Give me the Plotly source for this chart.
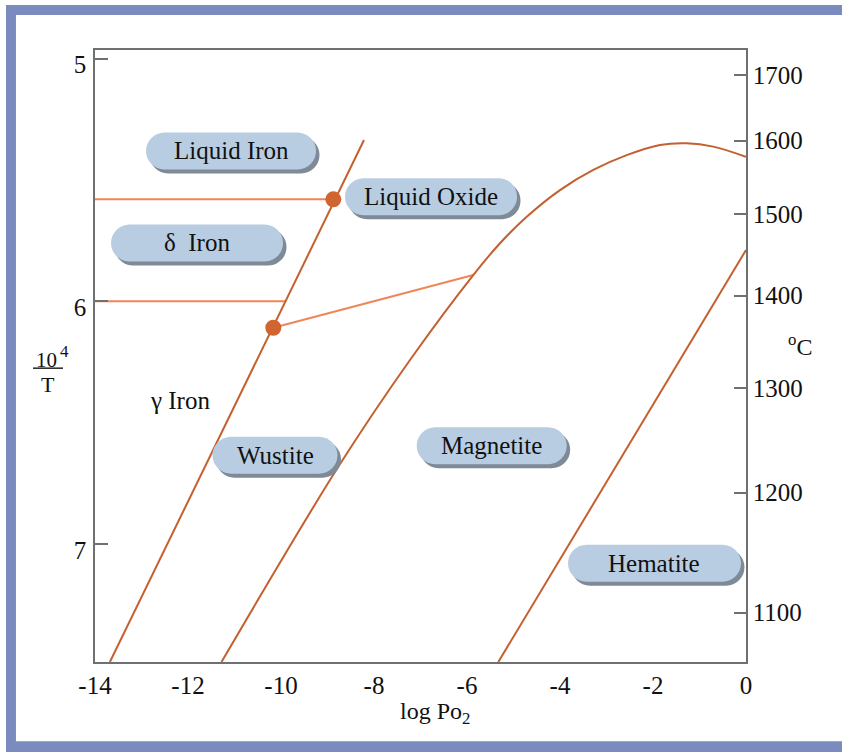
import plotly.graph_objects as go

# ---------------- data ----------------
x_ticks = [-14, -12, -10, -8, -6, -4, -2, 0]
inv_t_ticks = [5, 6, 7]
celsius_ticks = [1700, 1600, 1500, 1400, 1300, 1200, 1100]

# Fe / FeO boundary (straight)
fe_feo_x = [-13.68, -8.215]
fe_feo_y = [7.486, 5.336]

# FeO / Fe3O4 boundary (curved, ends at the liquid oxide dome)
feo_mag_x = [-11.28, -8.768, -7.226, -5.865, -5.290, -4.716, -4.0, -3.284, -2.566, -1.849, -1.275, -0.703, 0.0]
feo_mag_y = [7.486, 6.682, 6.242, 5.892, 5.761, 5.652, 5.542, 5.459, 5.398, 5.356, 5.349, 5.363, 5.405]

# Fe3O4 / Fe2O3 boundary
mag_hem_x = [-5.327, 0.0]
mag_hem_y = [7.486, 5.789]

# horizontal transitions of iron (liquid/delta, delta/gamma)
liq_delta_x = [-14.0, -8.875]
liq_delta_y = [5.58, 5.58]
delta_gamma_x = [-14.0, -9.90]
delta_gamma_y = [6.0, 6.0]

# tie line from invariant point to the magnetite boundary
tie_x = [-10.165, -5.865]
tie_y = [6.109, 5.892]

# invariant points
pts_x = [-8.875, -10.165]
pts_y = [5.58, 6.109]

# region labels
region_names = ["Liquid Iron", "Liquid Oxide", "δ\u00a0\u00a0Iron", "Wustite", "Magnetite", "Hematite"]
region_x = [-11.075, -6.774, -11.806, -10.129, -5.469, -1.968]
region_y = [5.381, 5.569, 5.760, 6.634, 6.595, 7.079]
gamma_name = "γ Iron"
gamma_x = -12.172
gamma_y = 6.407

# ---------------- styling ----------------
Y_RANGE = [7.486, 4.965]
X_RANGE = [-14, 0]
DARK = "#C4602F"
LIGHT = "#EE8657"
DOT = "#CF6530"
AXIS = "#707070"
FONT = "Liberation Serif"
TXT = "#111111"
PILL_W = [170, 172, 172, 125, 150, 173]
PILL_H = 37
PILL_FILL = "#B9CDE2"
PILL_SHADOW = "#7E8A97"
FRAME = "#7A8BC0"

fig = go.Figure()

def line(x, y, color, shape="linear"):
    fig.add_trace(go.Scatter(x=x, y=y, mode="lines",
                             line=dict(color=color, width=2, shape=shape, smoothing=1.0),
                             hoverinfo="skip", showlegend=False))

line(liq_delta_x, liq_delta_y, LIGHT)
line(delta_gamma_x, delta_gamma_y, LIGHT)
line(tie_x, tie_y, LIGHT)
line(fe_feo_x, fe_feo_y, DARK)
line(feo_mag_x, feo_mag_y, DARK, "spline")
line(mag_hem_x, mag_hem_y, DARK)

fig.add_trace(go.Scatter(x=pts_x, y=pts_y, mode="markers",
                         marker=dict(color=DOT, size=16, line=dict(width=0)),
                         hoverinfo="skip", showlegend=False))

# invisible trace to make the right axis live
fig.add_trace(go.Scatter(x=[None], y=[None], yaxis="y2", showlegend=False, hoverinfo="skip"))

# ---------------- pills ----------------
def pill_path(w, h, dx=0.0, dy=0.0):
    r = h / 2.0
    a = w / 2.0 - r
    k = 0.5523 * r
    P = lambda x, y: f"{x + dx:.2f},{y + dy:.2f}"
    return (f"M{P(-a, -r)} L{P(a, -r)} "
            f"C{P(a + k, -r)} {P(a + r, -k)} {P(a + r, 0)} "
            f"C{P(a + r, k)} {P(a + k, r)} {P(a, r)} "
            f"L{P(-a, r)} "
            f"C{P(-a - k, r)} {P(-a - r, k)} {P(-a - r, 0)} "
            f"C{P(-a - r, -k)} {P(-a - k, -r)} {P(-a, -r)} Z")

shapes = []
for name, xc, yc, w in zip(region_names, region_x, region_y, PILL_W):
    shapes.append(dict(type="path", xref="x", yref="y", xsizemode="pixel", ysizemode="pixel",
                       xanchor=xc, yanchor=yc, path=pill_path(w, PILL_H, 3.5, -4),
                       fillcolor=PILL_SHADOW, line=dict(width=0), layer="above"))
    shapes.append(dict(type="path", xref="x", yref="y", xsizemode="pixel", ysizemode="pixel",
                       xanchor=xc, yanchor=yc, path=pill_path(w, PILL_H),
                       fillcolor=PILL_FILL, line=dict(width=0), layer="above"))

# outer frame (left, top, bottom bands)
shapes += [
    dict(type="rect", xref="paper", yref="paper", x0=-0.1367, x1=-0.1214, y0=-0.1480, y1=1.0736,
         fillcolor=FRAME, line=dict(width=0), layer="below"),
    dict(type="rect", xref="paper", yref="paper", x0=-0.1367, x1=1.16, y0=1.0572, y1=1.0736,
         fillcolor=FRAME, line=dict(width=0), layer="below"),
    dict(type="rect", xref="paper", yref="paper", x0=-0.1367, x1=1.16, y0=-0.1480, y1=-0.1296,
         fillcolor=FRAME, line=dict(width=0), layer="below"),
    # fraction bar of 10^4 / T
    dict(type="line", xref="paper", yref="paper", x0=-0.0952, x1=-0.0492, y0=0.4801, y1=0.4801,
         line=dict(color="#222222", width=1.5)),
]

annotations = []
for name, xc, yc in zip(region_names, region_x, region_y):
    annotations.append(dict(x=xc, y=yc, xref="x", yref="y", text=name, showarrow=False,
                            font=dict(family=FONT, size=25, color=TXT),
                            xanchor="center", yanchor="middle"))
annotations.append(dict(x=gamma_x, y=gamma_y, xref="x", yref="y", text=gamma_name, showarrow=False,
                        font=dict(family=FONT, size=25, color=TXT),
                        xanchor="center", yanchor="middle"))
annotations += [
    dict(x=0.523, y=-0.0839, xref="paper", yref="paper", text="log Po<sub>2</sub>", showarrow=False,
         font=dict(family=FONT, size=24, color=TXT), xanchor="center", yanchor="middle"),
    dict(x=-0.0742, y=0.4934, xref="paper", yref="paper", text="10", showarrow=False,
         font=dict(family=FONT, size=21, color=TXT), xanchor="center", yanchor="middle"),
    dict(x=-0.0476, y=0.5081, xref="paper", yref="paper", text="4", showarrow=False,
         font=dict(family=FONT, size=17, color=TXT), xanchor="center", yanchor="middle"),
    dict(x=-0.0722, y=0.4528, xref="paper", yref="paper", text="T", showarrow=False,
         font=dict(family=FONT, size=22, color=TXT), xanchor="center", yanchor="middle"),
    dict(x=1.083, y=0.5177, xref="paper", yref="paper", text="<sup>o</sup>C", showarrow=False,
         font=dict(family=FONT, size=24, color=TXT), xanchor="center", yanchor="middle"),
]

inv_t_for_celsius = [1e4 / (c + 273.15) for c in celsius_ticks]

tick_font = dict(family=FONT, size=25, color=TXT)

fig.update_layout(
    width=842, height=752,
    margin=dict(l=95, r=96, t=50, b=90),
    paper_bgcolor="white", plot_bgcolor="white",
    showlegend=False,
    font=dict(family=FONT, size=24, color=TXT),
    xaxis=dict(range=X_RANGE, tickvals=x_ticks, ticktext=[str(v) for v in x_ticks],
               showgrid=False, zeroline=False, showline=True, linecolor=AXIS, linewidth=1.5,
               mirror=True, ticks="", tickfont=tick_font),
    yaxis=dict(range=Y_RANGE, tickvals=inv_t_ticks, ticktext=[str(v) for v in inv_t_ticks],
               showgrid=False, zeroline=False, showline=True, linecolor=AXIS, linewidth=1.5,
               ticks="inside", ticklen=13, tickwidth=1.5, tickcolor=AXIS,
               ticklabelshift=-6, ticklabelstandoff=2, tickfont=tick_font),
    yaxis2=dict(range=Y_RANGE, overlaying="y", side="right", anchor="x",
                tickvals=inv_t_for_celsius, ticktext=[str(c) for c in celsius_ticks],
                showgrid=False, zeroline=False, showline=True, linecolor=AXIS, linewidth=1.5,
                ticks="inside", ticklen=12, tickwidth=1.5, tickcolor=AXIS, tickfont=tick_font),
    shapes=shapes,
    annotations=annotations,
)

fig.write_html("out.html", config={"displayModeBar": False},
               post_script="document.body.style.margin='0px';")
